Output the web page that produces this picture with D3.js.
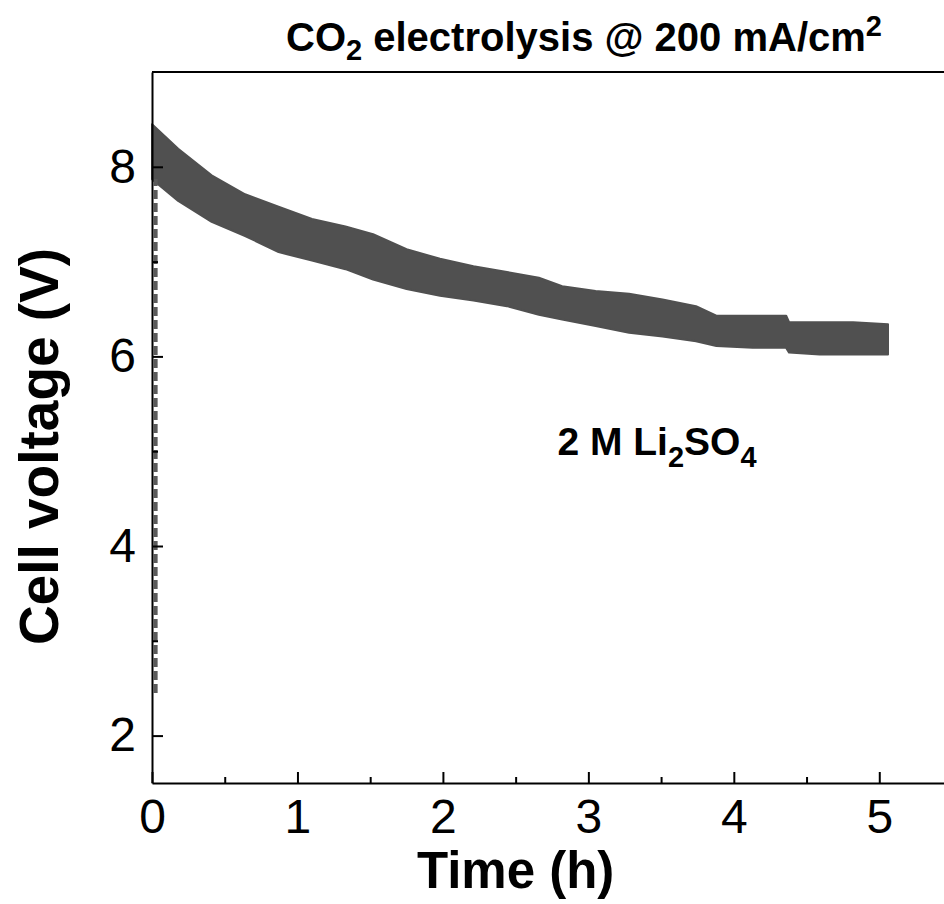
<!DOCTYPE html>
<html>
<head>
<meta charset="utf-8">
<script src="https://cdn.jsdelivr.net/npm/d3@7"></script>
<style>
  body { margin: 0; background: #fff; }
  svg text { font-family: Arial, "Liberation Sans", sans-serif; fill: #000; }
</style>
</head>
<body>
<script>
// values: envelope of the noisy voltage band
const time_h  = [0.00, 0.18, 0.41, 0.64, 0.87, 1.10, 1.33, 1.52, 1.75, 1.98, 2.21, 2.44, 2.66, 2.82, 3.05, 3.28, 3.51, 3.74, 3.88, 4.13, 4.36, 4.38, 4.59, 4.82, 5.06];
const v_upper = [8.45, 8.19, 7.91, 7.71, 7.58, 7.45, 7.37, 7.29, 7.13, 7.03, 6.95, 6.89, 6.83, 6.74, 6.69, 6.66, 6.60, 6.53, 6.43, 6.43, 6.43, 6.36, 6.36, 6.36, 6.34];
const v_lower = [7.87, 7.64, 7.42, 7.27, 7.10, 7.01, 6.92, 6.81, 6.71, 6.64, 6.59, 6.53, 6.44, 6.39, 6.32, 6.25, 6.21, 6.16, 6.11, 6.09, 6.09, 6.04, 6.02, 6.02, 6.02];

// start-up ramp (sparse points drawn as a dashed vertical run)
const ramp_time = [0.025, 0.025];
const ramp_v = [2.45, 7.87];

const x_ticks = [0, 1, 2, 3, 4, 5];
const x_minor = [0.5, 1.5, 2.5, 3.5, 4.5];
const y_ticks = [2, 4, 6, 8];
const y_minor = [3, 5, 7];

const width = 944, height = 904;
const band_color = "#505050";

const svg = d3.select("body").append("svg")
  .attr("width", width)
  .attr("height", height);

const x = d3.scaleLinear().domain([0, 5.5]).range([152, 952]);
const y = d3.scaleLinear().domain([1.5, 9]).range([783, 72]);

const band = time_h.map((t, i) => ({t, hi: v_upper[i], lo: v_lower[i]}));
const ramp = ramp_time.map((t, i) => ({t, v: ramp_v[i]}));

// ===============================================================
// Data
const area = d3.area()
  .x(d => x(d.t))
  .y0(d => y(d.lo))
  .y1(d => y(d.hi));

svg.append("path")
  .datum(band)
  .attr("d", area)
  .attr("fill", band_color)
  .attr("stroke", band_color)
  .attr("stroke-width", 2)
  .attr("stroke-linejoin", "round");

svg.append("path")
  .datum(ramp)
  .attr("d", d3.line().x(d => x(d.t)).y(d => y(d.v)))
  .attr("fill", "none")
  .attr("stroke", "#5a5a5a")
  .attr("stroke-width", 4)
  .attr("stroke-dasharray", "9,4");

// ===============================================================
// Axes (ticks point inward)
svg.append("g")
  .attr("transform", `translate(0,${y.range()[0]})`)
  .call(d3.axisBottom(x).tickValues(x_ticks).tickFormat(d3.format("d"))
    .tickSizeInner(-11).tickSizeOuter(0).tickPadding(16));

svg.append("g")
  .attr("transform", `translate(0,${y.range()[0]})`)
  .call(d3.axisBottom(x).tickValues(x_minor).tickFormat("")
    .tickSizeInner(-6).tickSizeOuter(0))
  .call(g => g.select(".domain").remove());

svg.append("g")
  .attr("transform", `translate(${x.range()[0]},0)`)
  .call(d3.axisLeft(y).tickValues(y_ticks).tickFormat(d3.format("d"))
    .tickSizeInner(-11).tickSizeOuter(0).tickPadding(16));

svg.append("g")
  .attr("transform", `translate(${x.range()[0]},0)`)
  .call(d3.axisLeft(y).tickValues(y_minor).tickFormat("")
    .tickSizeInner(-6).tickSizeOuter(0))
  .call(g => g.select(".domain").remove());

// top frame
svg.append("line")
  .attr("x1", x.range()[0]).attr("x2", x.range()[1])
  .attr("y1", y.range()[1]).attr("y2", y.range()[1])
  .attr("stroke", "#000").attr("stroke-width", 2);

svg.selectAll(".domain, .tick line")
  .attr("stroke", "#000")
  .attr("stroke-width", 2);

svg.selectAll(".tick text")
  .style("font-size", "48px")
  .style("font-family", 'Arial, "Liberation Sans", sans-serif');

// ===============================================================
// Labels
svg.append("text")
  .attr("x", x(2.5))
  .attr("y", 888)
  .attr("text-anchor", "middle")
  .style("font-size", "51px")
  .style("font-weight", "bold")
  .text("Time (h)");

svg.append("text")
  .attr("transform", `translate(58,${y(5.05)}) rotate(-90)`)
  .attr("text-anchor", "middle")
  .style("font-size", "55px")
  .style("font-weight", "bold")
  .text("Cell voltage (V)");

const title = svg.append("text")
  .attr("x", 584)
  .attr("y", 51)
  .attr("text-anchor", "middle")
  .style("font-size", "40px")
  .style("font-weight", "bold");
title.append("tspan").text("CO");
title.append("tspan").attr("dy", 9).style("font-size", "29px").text("2");
title.append("tspan").attr("dy", -9).text(" electrolysis @ 200 mA/cm");
title.append("tspan").attr("dy", -15).style("font-size", "29px").text("2");

const note = svg.append("text")
  .attr("x", 657)
  .attr("y", 455)
  .attr("text-anchor", "middle")
  .style("font-size", "39px")
  .style("font-weight", "bold");
note.append("tspan").text("2 M Li");
note.append("tspan").attr("dy", 12).style("font-size", "29px").text("2");
note.append("tspan").attr("dy", -12).text("SO");
note.append("tspan").attr("dy", 12).style("font-size", "29px").text("4");
</script>
</body>
</html>
